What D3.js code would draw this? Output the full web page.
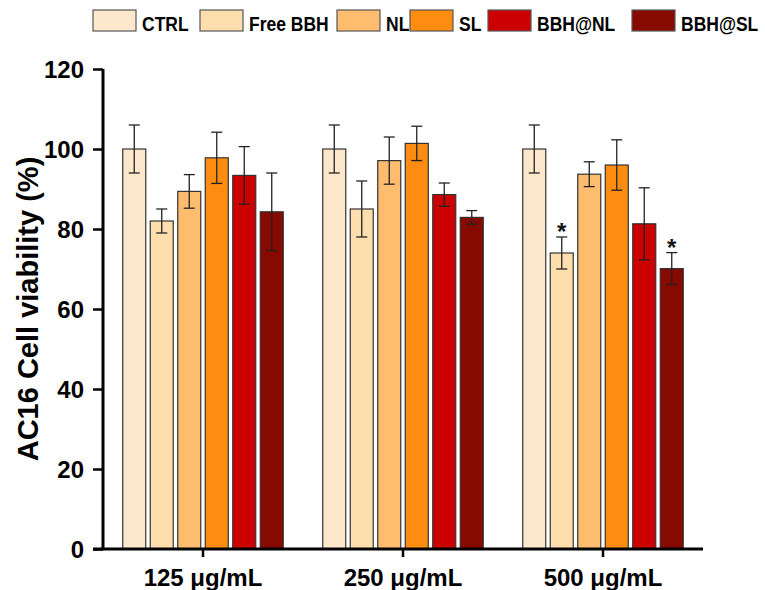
<!DOCTYPE html>
<html><head><meta charset="utf-8">
<script src="https://cdn.jsdelivr.net/npm/d3@7"></script>
<style>body{margin:0;background:#fff}svg{display:block}text{font-family:Arial,"Liberation Sans",sans-serif;font-weight:bold}</style>
</head><body><svg id="c" width="765" height="590"></svg>
<script>
const groups = ["125 μg/mL", "250 μg/mL", "500 μg/mL"];
const series = ["CTRL", "Free BBH", "NL", "SL", "BBH@NL", "BBH@SL"];
const colors = ["#FEE8CB", "#FFDEAE", "#FEBC6F", "#FE8C10", "#CC0000", "#870A00"];
// values[series][group]
const means = [
  [100, 100, 100],
  [82, 85, 74],
  [89.4, 97.1, 93.7],
  [97.8, 101.4, 96],
  [93.4, 88.6, 81.3],
  [84.3, 82.9, 70.1]
];
const errs = [
  [6, 6, 6],
  [3, 7, 4],
  [4.2, 5.9, 3.1],
  [6.4, 4.3, 6.3],
  [7.2, 2.9, 9],
  [9.7, 1.7, 4]
];
const stars = [
  [false, false, false],
  [false, false, true],
  [false, false, false],
  [false, false, false],
  [false, false, false],
  [false, false, true]
];
const yTicks = [0, 20, 40, 60, 80, 100, 120];
const yLabel = "AC16 Cell viability (%)";

const svg = d3.select("#c");
const y = d3.scaleLinear().domain([0, 120]).range([549, 69]);
const x0 = d3.scaleBand().domain(groups).range([103, 703]).paddingInner(0).paddingOuter(0);
const x1 = d3.scaleBand().domain(series).range([-80.25, 80.25]).paddingInner(0.164).paddingOuter(0);
const bw = x1.bandwidth();

const data = [];
series.forEach((s, si) => groups.forEach((g, gi) => data.push({s, si, g, gi, v: means[si][gi], e: errs[si][gi], star: stars[si][gi]})));
const cx = d => x0(d.g) + x0.bandwidth() / 2 + x1(d.s);

svg.append("g").selectAll("rect").data(data).join("rect")
  .attr("x", d => cx(d)).attr("y", d => y(d.v))
  .attr("width", bw).attr("height", d => y(0) - y(d.v))
  .attr("fill", d => colors[d.si]).attr("stroke", "#333").attr("stroke-width", 1.2);

const eg = svg.append("g").attr("stroke", "#222").attr("stroke-width", 1.3);
data.forEach(d => {
  const m = cx(d) + bw / 2;
  eg.append("line").attr("x1", m).attr("x2", m).attr("y1", y(d.v + d.e)).attr("y2", y(d.v - d.e));
  eg.append("line").attr("x1", m - 5.5).attr("x2", m + 5.5).attr("y1", y(d.v + d.e)).attr("y2", y(d.v + d.e));
  eg.append("line").attr("x1", m - 5.5).attr("x2", m + 5.5).attr("y1", y(d.v - d.e)).attr("y2", y(d.v - d.e));
});
svg.append("g").selectAll("text").data(data.filter(d => d.star)).join("text")
  .attr("x", d => cx(d) + bw / 2).attr("y", d => y(d.v + d.e) + 3)
  .attr("text-anchor", "middle").attr("font-size", 24).attr("fill", "#111")
  .text("*");

// y axis
const ya = svg.append("g").attr("transform", "translate(103,0)")
  .call(d3.axisLeft(y).tickValues(yTicks).tickSize(10).tickPadding(9).tickFormat(d3.format("d")));
ya.select(".domain").attr("stroke", "#000").attr("stroke-width", 3).attr("d", `M0,${y(120)}V${y(0)}`);
ya.selectAll(".tick line").attr("stroke", "#000").attr("stroke-width", 2.5);
ya.selectAll(".tick text").attr("font-size", 24).attr("fill", "#000").attr("dy", "0.36em");

// x axis
const xa = svg.append("g").attr("transform", `translate(0,${y(0)})`)
  .call(d3.axisBottom(x0).tickSize(8).tickPadding(12));
xa.select(".domain").attr("stroke", "#000").attr("stroke-width", 3).attr("d", "M93,0H703");
xa.selectAll(".tick line").attr("stroke", "#000").attr("stroke-width", 2.5);
xa.selectAll(".tick text").attr("font-size", 24).attr("fill", "#000");

svg.append("text").attr("transform", "translate(38,309) rotate(-90)")
  .attr("text-anchor", "middle").attr("font-size", 29).text(yLabel);

// legend
const legX = [93, 200, 337, 410, 488, 632];
const lg = svg.append("g");
series.forEach((s, i) => {
  lg.append("rect").attr("x", legX[i]).attr("y", 10).attr("width", 43).attr("height", 21)
    .attr("fill", colors[i]).attr("stroke", "#555").attr("stroke-width", 1.2);
  lg.append("text").attr("transform", `translate(${legX[i] + 49},31) scale(1,1.2)`)
    .attr("font-size", 17.5).text(s);
});
</script></body></html>
